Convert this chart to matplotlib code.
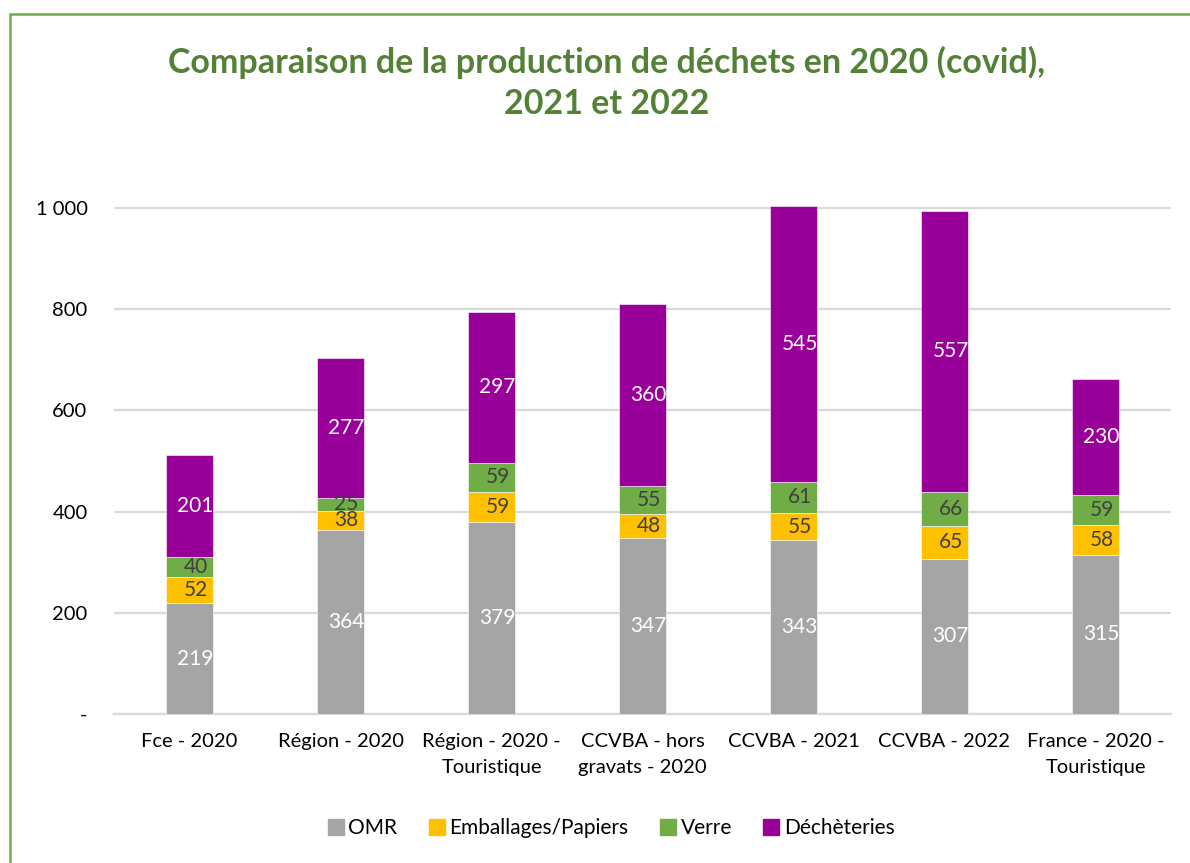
import matplotlib
matplotlib.use("Agg")
import matplotlib.pyplot as plt
from matplotlib.patches import Rectangle
from matplotlib.lines import Line2D
import numpy as np

plt.rcParams['font.family'] = ['Lato', 'DejaVu Sans']

categories = ["Fce - 2020", "Région - 2020", "Région - 2020 -\nTouristique",
              "CCVBA - hors\ngravats - 2020", "CCVBA - 2021", "CCVBA - 2022",
              "France - 2020 -\nTouristique"]
series_names = ["OMR", "Emballages/Papiers", "Verre", "Déchèteries"]
omr = [219, 364, 379, 347, 343, 307, 315]
emballages = [52, 38, 59, 48, 55, 65, 58]
verre = [40, 25, 59, 55, 61, 66, 59]
decheteries = [201, 277, 297, 360, 545, 557, 230]
yticks = [0, 200, 400, 600, 800, 1000]
ytick_labels = ["-", "200", "400", "600", "800", "1 000"]

colors = ["#A5A5A5", "#FFC000", "#70AD47", "#990099"]
label_colors = ["white", "#404040", "#404040", "white"]
series = [omr, emballages, verre, decheteries]

fig = plt.figure(figsize=(11.9, 8.63), dpi=100)
W, H = 1190, 863
ax = fig.add_axes([114 / W, 1 - 714 / H, (1171 - 114) / W, (714 - 203) / H])

x = np.arange(len(categories))
bottom = np.zeros(len(categories))
width = 0.31
for vals, col, lc, name in zip(series, colors, label_colors, series_names):
    vals = np.array(vals, dtype=float)
    ax.bar(x, vals, width, bottom=bottom, color=col, label=name, zorder=3,
           edgecolor="white", linewidth=0.4)
    for xi, b, v in zip(x, bottom, vals):
        ax.text(xi + 0.04, b + v / 2, f"{int(v)}", ha="center", va="center",
                color=lc, fontsize=15, zorder=4)
    bottom += vals

ax.set_xlim(-0.5, len(categories) - 0.5)
ax.set_ylim(0, 1010)
ax.set_yticks(yticks)
ax.set_yticklabels(ytick_labels)
ax.set_xticks(x)
ax.set_xticklabels(categories, linespacing=1.6)
ax.tick_params(axis="both", length=0, labelsize=14.5, colors="#000000")
ax.tick_params(axis="y", pad=19)
ax.tick_params(axis="x", pad=14)
ax.grid(axis="y", color="#D9D9D9", linewidth=1.6, zorder=0)
for s in ["top", "right", "left"]:
    ax.spines[s].set_visible(False)
ax.spines["bottom"].set_color("#D9D9D9")
ax.spines["bottom"].set_linewidth(1.6)

fig.text(607 / W, 1 - 62 / H, "Comparaison de la production de déchets en 2020 (covid),",
         ha="center", va="center", fontsize=24.5, fontweight="bold", color="#538135")
fig.text(607 / W, 1 - 104 / H, "2021 et 2022",
         ha="center", va="center", fontsize=24.5, fontweight="bold", color="#538135")

handles = [Line2D([], [], marker="s", linestyle="none", markersize=11,
                  markerfacecolor=c, markeredgecolor=c) for c in colors]
fig.legend(handles, series_names, loc="center", bbox_to_anchor=(610 / W, 1 - 828 / H),
           ncol=4, frameon=False, fontsize=15, handletextpad=0.1,
           columnspacing=1.4, handlelength=1.0)

fig.patches.append(Rectangle((10 / W, -0.05), 1.2, 1 - 14 / H + 0.05,
                             transform=fig.transFigure, fill=False,
                             edgecolor="#70AD47", linewidth=1.8))

fig.savefig("out.png", dpi=100)
